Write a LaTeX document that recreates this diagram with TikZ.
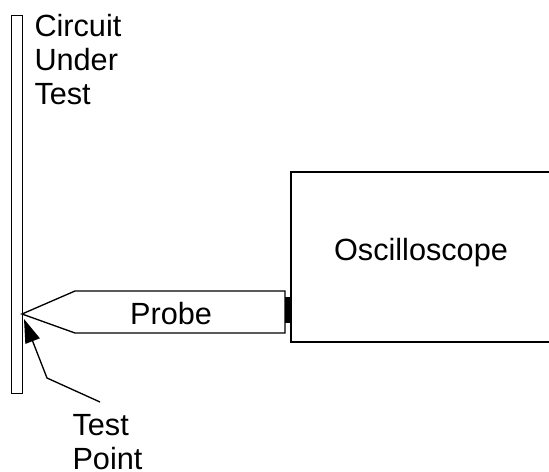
\documentclass[tikz,border=0pt]{standalone}
\usepackage{fontspec}
\setmainfont{Liberation Sans}
\usetikzlibrary{arrows.meta}

\tikzset{every picture/.style={line width=0.75pt}}
\tikzset{lbl/.style={inner sep=0pt, font=\fontsize{23}{25.5}\selectfont, align=left}}

\begin{document}
\begin{tikzpicture}[x=0.75pt,y=0.75pt,yscale=-1,xscale=1]
        \useasboundingbox (0,0) rectangle (549,471);

        %Shape: Rectangle [circuit board]
        \draw (11,15) rectangle (22,393);
        %Shape: Probe body
        \coordinate (tip) at (22,314);
        \draw [line width=1pt] (tip) -- (75,291) -- (285,291) -- (285,333) -- (75,333) -- cycle;
        %Shape: Probe connector
        \fill (285,297) rectangle (291,323);
        %Shape: Oscilloscope box, open to the right
        \draw [line width=1pt] (555,172) -- (291,172) -- (291,342) -- (555,342);

        % Text Node
        \node [lbl, anchor=north west] (cut) at (34,14) {Circuit\\Under\\Test};
        % Text Node
        \node [lbl, anchor=base] (scope) at (421,260) {Oscilloscope};
        % Text Node
        \node [lbl, anchor=base] (probe) at (171,324) {Probe};
        % Text Node
        \node [lbl, anchor=north west] (tp) at (72,414) {Test\\Point};

        %Straight Lines [test point pointer]
        \coordinate (tpfoot) at (100,402);
        \coordinate (tpaim) at (24,319);
        \draw [line width=1pt, -{Triangle[length=17.8pt,width=11.4pt]}] (tpfoot) -- (47,378) -- (tpaim);

\end{tikzpicture}
\end{document}
